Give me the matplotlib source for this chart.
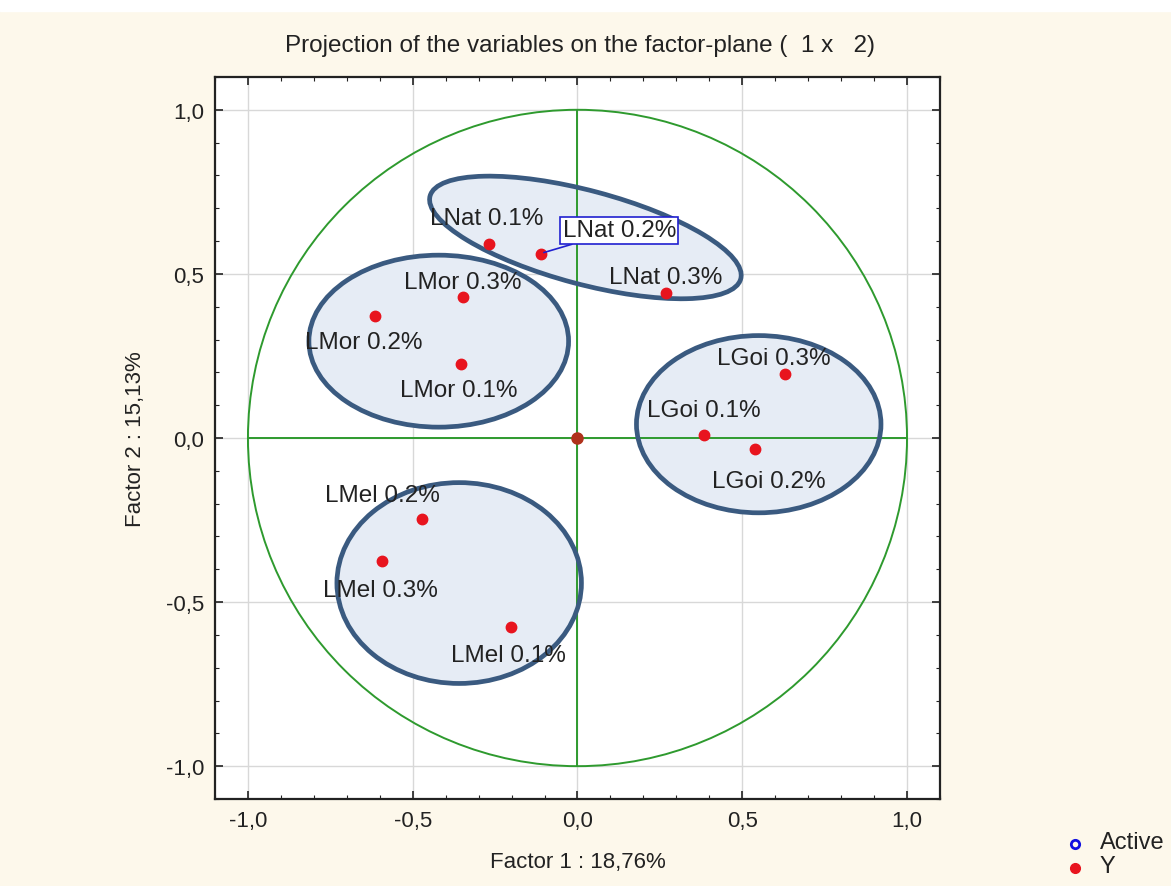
"""Projection of the variables on the factor-plane (1 x 2), STATISTICA style."""

import matplotlib

matplotlib.use("Agg")
import matplotlib.pyplot as plt
from matplotlib.patches import Circle, Ellipse, Rectangle
from matplotlib.ticker import FuncFormatter, MultipleLocator

# variable coordinates on factor 1 / factor 2
names = ["LNat 0.1%", "LNat 0.2%", "LNat 0.3%",
         "LMor 0.3%", "LMor 0.2%", "LMor 0.1%",
         "LGoi 0.3%", "LGoi 0.1%", "LGoi 0.2%",
         "LMel 0.2%", "LMel 0.3%", "LMel 0.1%"]
f1 = [-0.267, -0.112, 0.270, -0.348, -0.615, -0.352, 0.630, 0.385, 0.539, -0.473, -0.594, -0.203]
f2 = [0.591, 0.561, 0.442, 0.430, 0.373, 0.224, 0.194, 0.009, -0.033, -0.248, -0.376, -0.576]

# label anchors (left/centre of text)
label_x = [-0.448, -0.045, 0.097, -0.527, -0.827, -0.539, 0.424, 0.212, 0.409, -0.767, -0.773, -0.385]
label_y = [0.670, 0.633, 0.491, 0.476, 0.291, 0.145, 0.245, 0.085, -0.130, -0.173, -0.464, -0.661]

# group ellipses: centre x, centre y, width, height, angle
groups = [(0.024, 0.611, 0.976, 0.285, -15),
          (-0.421, 0.295, 0.788, 0.524, 0),
          (0.550, 0.042, 0.742, 0.540, 0),
          (-0.359, -0.442, 0.742, 0.612, 0)]

GREEN = "#2E9A2E"
RED = "#E8141E"
TXT = "#222222"
FONT = ["Liberation Sans", "DejaVu Sans"]

plt.rcParams["font.family"] = FONT

fig = plt.figure(figsize=(11.71, 8.87), dpi=100, facecolor="#FDF8EB")
fig.patches.append(Rectangle((0, 0.986), 1, 0.014, transform=fig.transFigure,
                             color="white", zorder=0))
ax = fig.add_axes([0.1836, 0.0981, 0.6191, 0.8140])
ax.set_facecolor("white")
ax.set_xlim(-1.1, 1.1)
ax.set_ylim(-1.1, 1.1)

for loc in (ax.xaxis, ax.yaxis):
    loc.set_major_locator(MultipleLocator(0.5))
    loc.set_minor_locator(MultipleLocator(0.1))
    loc.set_major_formatter(FuncFormatter(lambda v, p: f"{v:.1f}".replace(".", ",").replace("-0,0", "0,0")))
ax.tick_params(which="both", direction="in", top=True, right=True, colors="#222222")
ax.tick_params(which="major", length=6, width=1.2, labelsize=16, labelcolor=TXT, pad=8)
ax.tick_params(which="minor", length=3, width=0.8)
ax.grid(True, which="major", color="#D8D8D8", lw=1.0)
ax.set_axisbelow(True)
for s in ax.spines.values():
    s.set_linewidth(1.6)
    s.set_color("#222222")

# unit circle and axes through origin
ax.add_patch(Circle((0, 0), 1.0, fill=False, ec=GREEN, lw=1.4, zorder=2))
ax.plot([-1, 1], [0, 0], color=GREEN, lw=1.4, zorder=2)
ax.plot([0, 0], [-1, 1], color=GREEN, lw=1.4, zorder=2)

for cx, cy, w, h, a in groups:
    ax.add_patch(Ellipse((cx, cy), w, h, angle=a, fc="#E6ECF5", ec="none", zorder=1.5))
for cx, cy, w, h, a in groups:
    ax.add_patch(Ellipse((cx, cy), w, h, angle=a, fill=False, ec="#3A5A80", lw=3.4, zorder=3))

ax.plot(f1, f2, "o", color=RED, ms=7.5, ls="none", zorder=5)
ax.plot([0], [0], "o", color="#B0321C", ms=8, zorder=5)

for name, x, y, lx, ly in zip(names, f1, f2, label_x, label_y):
    if name == "LNat 0.2%":
        ax.annotate(name, xy=(x + 0.01, y + 0.004), xytext=(lx, ly), ha="left", va="center",
                    fontsize=17.5, color=TXT, zorder=6,
                    bbox=dict(boxstyle="square,pad=0.1", fc="white", ec="#2020D0", lw=1.2),
                    arrowprops=dict(arrowstyle="-", color="#2020D0", lw=1.2,
                                    shrinkA=0, shrinkB=0))
    else:
        ax.text(lx, ly, name, ha="left", va="center", fontsize=17.5, color=TXT, zorder=6)

ax.set_xlabel("Factor 1 : 18,76%", fontsize=16, color=TXT, labelpad=14)
ax.set_ylabel("Factor 2 : 15,13%", fontsize=16, color=TXT, labelpad=14)
fig.text(0.4949, 0.948, "Projection of the variables on the factor-plane (  1 x   2)",
         ha="center", va="center", fontsize=17.5, color=TXT,
         family=["Liberation Sans Narrow", "Liberation Sans", "DejaVu Sans"])

# legend outside, bottom right
fig.lines.append(plt.Line2D([1075 / 1171], [1 - 845 / 887], marker="o", ms=6, mfc="none",
                            mec="#1010E0", mew=2, ls="none", transform=fig.transFigure))
fig.lines.append(plt.Line2D([1075 / 1171], [1 - 869 / 887], marker="o", ms=7, color=RED,
                            ls="none", transform=fig.transFigure))
fig.text(1100 / 1171, 1 - 843 / 887, "Active", fontsize=17, color=TXT, va="center", ha="left")
fig.text(1100 / 1171, 1 - 867 / 887, "Y", fontsize=17, color=TXT, va="center", ha="left")

fig.savefig("out.png", dpi=100, facecolor=fig.get_facecolor())
